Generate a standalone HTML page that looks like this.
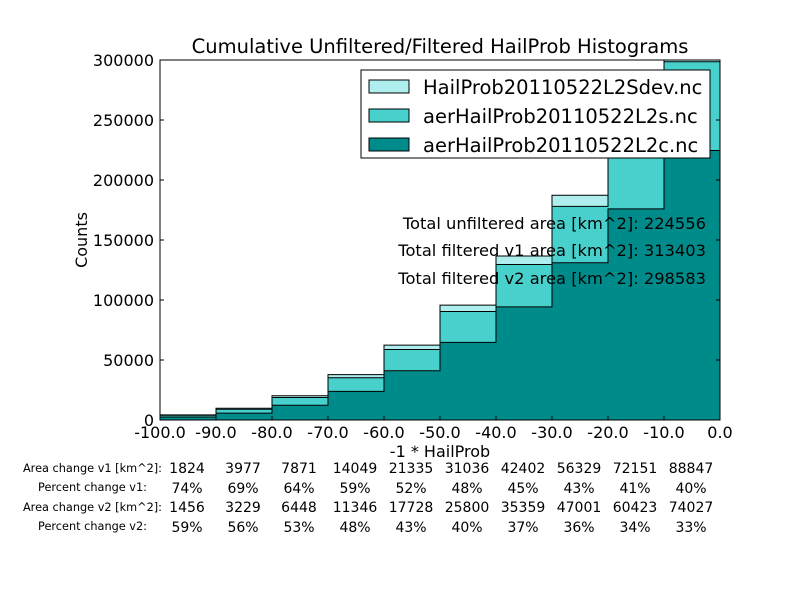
<!DOCTYPE html>
<html><head><style>
body{margin:0;background:#fff;}
svg text{font-family:"DejaVu Sans","Liberation Sans",sans-serif;}
</style></head><body>
<svg width="800" height="600" xmlns="http://www.w3.org/2000/svg">
<rect width="800" height="600" fill="#fff"/>
<defs><clipPath id="c"><rect x="160" y="60" width="560" height="360"/></clipPath></defs>
<g clip-path="url(#c)" stroke="#000" stroke-width="1">
<path fill="#afeeee" d="M160,420V414.85H216V408.31H272V395.8H328V374.57H384V345.16H440V305.17H496V256.05H552V195.2H608V122.2H664V50H720V420Z"/>
<path fill="#48d1cc" d="M160,420V415.3H216V409.2H272V397.5H328V377.8H384V349.5H440V311.45H496V264.5H552V206.4H608V136.3H664V61.7H720V420Z"/>
<path fill="#008b8b" d="M160,420V417.04H216V413.08H272V405.24H328V391.43H384V370.77H440V342.41H496V306.93H552V262.8H608V208.83H664V150.53H720V420Z"/>
</g>
<rect x="160" y="60" width="560" height="360" fill="none" stroke="#000" stroke-width="1"/>
<g stroke="#000">
<line x1="216" y1="420" x2="216" y2="416"/><line x1="272" y1="420" x2="272" y2="416"/><line x1="328" y1="420" x2="328" y2="416"/><line x1="384" y1="420" x2="384" y2="416"/><line x1="440" y1="420" x2="440" y2="416"/><line x1="496" y1="420" x2="496" y2="416"/><line x1="552" y1="420" x2="552" y2="416"/><line x1="608" y1="420" x2="608" y2="416"/><line x1="664" y1="420" x2="664" y2="416"/>
<line x1="160" y1="360" x2="164" y2="360"/><line x1="160" y1="300" x2="164" y2="300"/><line x1="160" y1="240" x2="164" y2="240"/><line x1="160" y1="180" x2="164" y2="180"/><line x1="160" y1="120" x2="164" y2="120"/>
<line x1="720" y1="360" x2="716" y2="360"/><line x1="720" y1="300" x2="716" y2="300"/><line x1="720" y1="240" x2="716" y2="240"/><line x1="720" y1="180" x2="716" y2="180"/><line x1="720" y1="120" x2="716" y2="120"/>
</g>
<text x="440" y="53" font-size="19.5" text-anchor="middle">Cumulative Unfiltered/Filtered HailProb Histograms</text>
<g font-size="16" text-anchor="end">
<text x="154" y="426">0</text><text x="154" y="366">50000</text><text x="154" y="306">100000</text><text x="154" y="246">150000</text><text x="154" y="186">200000</text><text x="154" y="126">250000</text><text x="154" y="66">300000</text>
</g>
<g font-size="16" text-anchor="middle">
<text x="160" y="438">-100.0</text><text x="216" y="438">-90.0</text><text x="272" y="438">-80.0</text><text x="328" y="438">-70.0</text><text x="384" y="438">-60.0</text><text x="440" y="438">-50.0</text><text x="496" y="438">-40.0</text><text x="552" y="438">-30.0</text><text x="608" y="438">-20.0</text><text x="664" y="438">-10.0</text><text x="720" y="438">0.0</text>
<text x="440" y="457">-1 * HailProb</text>
</g>
<text transform="translate(87,240) rotate(-90)" font-size="16" text-anchor="middle">Counts</text>
<rect x="361" y="70" width="349" height="88" fill="#fff" stroke="#000"/>
<rect x="369" y="80" width="40" height="13" fill="#afeeee" stroke="#000"/>
<rect x="369" y="109" width="40" height="13" fill="#48d1cc" stroke="#000"/>
<rect x="369" y="138" width="40" height="13" fill="#008b8b" stroke="#000"/>
<g font-size="19.5"><text x="423" y="94">HailProb20110522L2Sdev.nc</text><text x="423" y="123">aerHailProb20110522L2s.nc</text><text x="423" y="152">aerHailProb20110522L2c.nc</text></g>
<g font-size="16.3" text-anchor="end"><text x="706" y="229">Total unfiltered area [km^2]: 224556</text><text x="706" y="256">Total filtered v1 area [km^2]: 313403</text><text x="706" y="284">Total filtered v2 area [km^2]: 298583</text></g>
<g font-size="11.3" text-anchor="end"><text x="162" y="472">Area change v1 [km^2]:</text><text x="147" y="491">Percent change v1:</text><text x="162" y="511">Area change v2 [km^2]:</text><text x="147" y="530">Percent change v2:</text></g>
<g font-size="14" text-anchor="middle">
<text y="473"><tspan x="187">1824</tspan><tspan x="243">3977</tspan><tspan x="299">7871</tspan><tspan x="355">14049</tspan><tspan x="411">21335</tspan><tspan x="467">31036</tspan><tspan x="523">42402</tspan><tspan x="579">56329</tspan><tspan x="635">72151</tspan><tspan x="691">88847</tspan></text>
<text y="493"><tspan x="187">74%</tspan><tspan x="243">69%</tspan><tspan x="299">64%</tspan><tspan x="355">59%</tspan><tspan x="411">52%</tspan><tspan x="467">48%</tspan><tspan x="523">45%</tspan><tspan x="579">43%</tspan><tspan x="635">41%</tspan><tspan x="691">40%</tspan></text>
<text y="512"><tspan x="187">1456</tspan><tspan x="243">3229</tspan><tspan x="299">6448</tspan><tspan x="355">11346</tspan><tspan x="411">17728</tspan><tspan x="467">25800</tspan><tspan x="523">35359</tspan><tspan x="579">47001</tspan><tspan x="635">60423</tspan><tspan x="691">74027</tspan></text>
<text y="532"><tspan x="187">59%</tspan><tspan x="243">56%</tspan><tspan x="299">53%</tspan><tspan x="355">48%</tspan><tspan x="411">43%</tspan><tspan x="467">40%</tspan><tspan x="523">37%</tspan><tspan x="579">36%</tspan><tspan x="635">34%</tspan><tspan x="691">33%</tspan></text>
</g>
</svg>
</body></html>
